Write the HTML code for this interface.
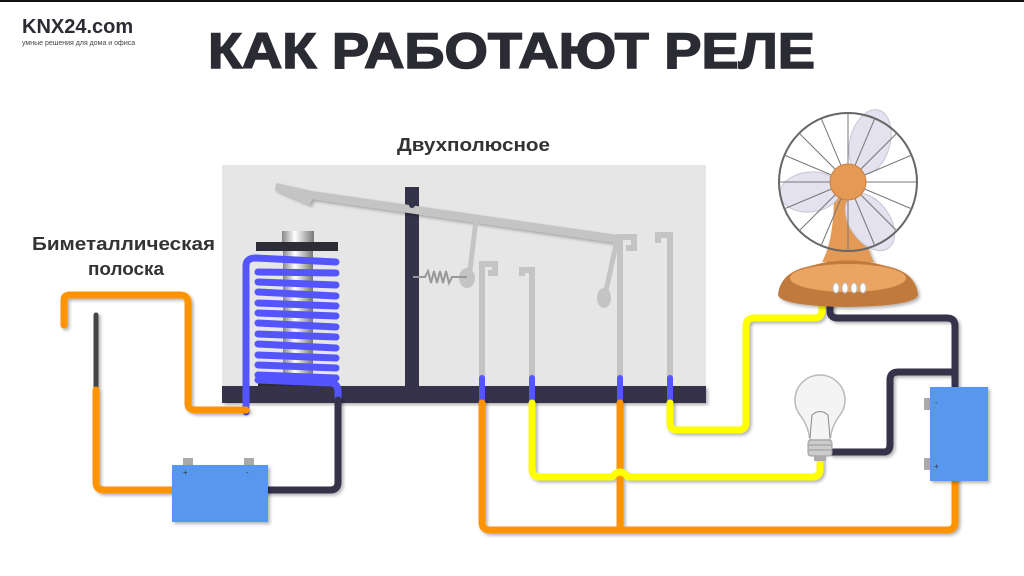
<!DOCTYPE html>
<html><head><meta charset="utf-8"><style>
html,body{margin:0;padding:0;background:#fff;}
svg{display:block;}
text{font-family:"Liberation Sans","DejaVu Sans",sans-serif;}
</style></head><body>
<svg width="1024" height="576" viewBox="0 0 1024 576" xmlns="http://www.w3.org/2000/svg">
<defs>
<filter id="sh" x="-10%" y="-10%" width="130%" height="130%"><feDropShadow dx="2" dy="2" stdDeviation="1.5" flood-color="#000" flood-opacity="0.3"/></filter>
<linearGradient id="chrome" x1="0" x2="1"><stop offset="0" stop-color="#888"/><stop offset="0.4" stop-color="#fff"/><stop offset="1" stop-color="#777"/></linearGradient>
</defs>
<rect x="0" y="0" width="1024" height="2" fill="#111"/>
<text x="22" y="33" font-size="20" font-weight="bold" fill="#2b2b33">KNX24.com</text>
<text x="22" y="45" font-size="7" fill="#444">умные решения для дома и офиса</text>
<text x="208" y="68" font-size="50" font-weight="bold" fill="#2b2b33" stroke="#2b2b33" stroke-width="1.5" textLength="607" lengthAdjust="spacingAndGlyphs">КАК РАБОТАЮТ РЕЛЕ</text>
<text x="397" y="151" font-size="18" font-weight="bold" fill="#333" textLength="153" lengthAdjust="spacingAndGlyphs">Двухполюсное</text>
<text x="32" y="250" font-size="18" font-weight="bold" fill="#333" textLength="183" lengthAdjust="spacingAndGlyphs">Биметаллическая</text>
<text x="88" y="275" font-size="18" font-weight="bold" fill="#333" textLength="76" lengthAdjust="spacingAndGlyphs">полоска</text>

<!-- panel -->
<rect x="222" y="165" width="484" height="225" fill="#e6e6e6"/>
<rect x="222" y="386" width="484" height="17" fill="#34334a" filter="url(#sh)"/>
<rect x="405" y="187" width="14" height="200" fill="#34334a"/>
<!-- lever -->
<polygon points="276,183 312,191 618,235 616,243 312,199 310,205 275,190" fill="#c4c4c4" filter="url(#sh)"/>
<circle cx="412" cy="205" r="3" fill="#34334a"/>
<path d="M476,220 L470,270" stroke="#c4c4c4" stroke-width="5" fill="none"/>
<ellipse cx="467" cy="278" rx="8" ry="10" fill="#c4c4c4"/>
<path d="M617,240 L604,300" stroke="#c4c4c4" stroke-width="5" fill="none"/>
<ellipse cx="604" cy="298" rx="7" ry="10" fill="#c4c4c4"/>
<path d="M413,277 L425,277 l3,-6 l3,12 l3,-12 l3,12 l3,-12 l3,12 l3,-12 l3,12 l3,-6 L467,277" stroke="#999" stroke-width="2" fill="none"/>
<g fill="none" stroke="#c4c4c4" stroke-width="6">
<path d="M482,390 V264 H495 V273 H488"/>
<path d="M532,390 V270 H522 V276"/>
<path d="M620,390 V237 H634 V248 H626"/>
<path d="M670,390 V235 H658 V243"/>
</g>
<g stroke="#5555ff" stroke-width="6" stroke-linecap="round">
<line x1="482" y1="378" x2="482" y2="403"/><line x1="532" y1="378" x2="532" y2="403"/>
<line x1="620" y1="378" x2="620" y2="403"/><line x1="670" y1="378" x2="670" y2="403"/>
</g>
<!-- coil -->
<rect x="282" y="231" width="32" height="12" fill="url(#chrome)"/>
<rect x="256" y="242" width="82" height="9" fill="#2d2d36"/>
<rect x="283" y="251" width="30" height="130" fill="url(#chrome)"/>
<rect x="258" y="378" width="78" height="8" fill="#2d2d36"/>
<g stroke="#5555ff" stroke-width="7" stroke-linecap="round" fill="none">
<path d="M246,412 V266 Q246,258 256,258 L336,262"/>
<path d="M258,272 L336,273 M258,282 L336,285 M258,292 L336,296 M258,303 L336,306 M258,313 L336,316 M258,323 L336,327 M258,334 L336,337 M258,344 L336,348 M258,355 L336,358 M258,365 L336,368 M258,375 L336,378"/>
<path d="M258,380 L332,383 Q338,384 338,392 V400"/>
</g>
<g fill="none" stroke-linejoin="round" stroke-linecap="round" filter="url(#sh)">
<path d="M64,325 V300 Q64,295 70,295 H180 Q188,295 188,303 V404 Q188,410 196,410 H246" stroke="#ff9400" stroke-width="7"/>
<path d="M96,315 V390" stroke="#444" stroke-width="5"/>
<path d="M96,390 V482 Q96,490 104,490 H175" stroke="#ff9400" stroke-width="7"/>
<path d="M338,400 V482 Q338,490 330,490 H265" stroke="#34334a" stroke-width="7"/>
<path d="M482,403 V522 Q482,530 490,530 H947 Q955,530 955,522 V478" stroke="#ff9400" stroke-width="7"/>
<path d="M620,403 V530" stroke="#ff9400" stroke-width="7"/>
<path d="M532,403 V469 Q532,477 540,477 H612 Q620,467 628,477 H812 Q820,477 820,469 V455" stroke="#ffff00" stroke-width="7"/>
<path d="M670,403 V424 Q670,430 678,430 H738 Q746,430 746,422 V326 Q746,318 754,318 H814 Q822,318 822,310 V303" stroke="#ffff00" stroke-width="7"/>
<path d="M830,303 V311 Q830,318 838,318 H947 Q955,318 955,326 V390" stroke="#34334a" stroke-width="7"/>
<path d="M832,452 H884 Q890,452 890,444 V380 Q890,372 898,372 H955" stroke="#34334a" stroke-width="7"/>
</g>
<rect x="183" y="458" width="10" height="8" fill="#aaa"/><rect x="244" y="458" width="10" height="8" fill="#aaa"/>
<rect x="172" y="465" width="96" height="57" fill="#5897f0" filter="url(#sh)"/>
<text x="183" y="475" font-size="8" fill="#333">+</text><text x="246" y="475" font-size="8" fill="#333">-</text>
<rect x="924" y="398" width="8" height="12" fill="#aaa"/><rect x="924" y="458" width="8" height="12" fill="#aaa"/>
<rect x="930" y="387" width="58" height="94" fill="#5897f0" filter="url(#sh)"/>
<text x="935" y="405" font-size="8" fill="#333">-</text><text x="934" y="469" font-size="8" fill="#333">+</text>
<!-- bulb -->
<path d="M810,440 Q808,425 800,415 A25,25 0 1 1 840,415 Q832,425 830,440 Z" fill="#f4f4f4" stroke="#bbb" stroke-width="1.5"/>
<path d="M810,438 L812,415 Q820,408 828,415 L830,438" fill="none" stroke="#888" stroke-width="1"/>
<rect x="808" y="440" width="24" height="16" rx="3" fill="#ccc" stroke="#999"/>
<path d="M808,445 H832 M808,450 H832" stroke="#999"/>
<rect x="814" y="456" width="12" height="5" fill="#aaa"/>
<!-- fan -->
<g filter="url(#sh)">
<path d="M834,195 Q834,240 822,262 H874 Q862,240 862,195 Z" fill="#e49a55"/>
<path d="M778,295 Q780,272 810,266 Q848,255 886,266 Q916,272 918,295 Q915,306 848,307 Q781,306 778,295 Z" fill="#c07a3c"/>
<ellipse cx="848" cy="278" rx="58" ry="14" fill="#eba562"/>
</g>
<g fill="#fff" stroke="#bbb"><ellipse cx="836" cy="288" rx="3" ry="5"/><ellipse cx="845" cy="288" rx="3" ry="5"/><ellipse cx="854" cy="288" rx="3" ry="5"/><ellipse cx="863" cy="288" rx="3" ry="5"/></g>
<g fill="#e4e2ee" stroke="#c8c6d4">
<ellipse cx="870" cy="142" rx="20" ry="33" transform="rotate(15 870 142)"/>
<ellipse cx="810" cy="192" rx="30" ry="20" transform="rotate(-5 810 192)"/>
<ellipse cx="870" cy="222" rx="20" ry="32" transform="rotate(-35 870 222)"/>
</g>
<circle cx="848" cy="182" r="69" fill="none" stroke="#666" stroke-width="2"/>
<g stroke="#777" stroke-width="1">
<line x1="779" y1="182" x2="917" y2="182"/><line x1="848" y1="113" x2="848" y2="251"/>
<line x1="799" y1="133" x2="897" y2="231"/><line x1="897" y1="133" x2="799" y2="231"/>
<line x1="784" y1="155" x2="912" y2="209"/><line x1="784" y1="209" x2="912" y2="155"/>
<line x1="821" y1="118" x2="875" y2="246"/><line x1="875" y1="118" x2="821" y2="246"/>
</g>
<circle cx="848" cy="182" r="18" fill="#e49a55" stroke="#c98040"/>
</svg>
</body></html>
